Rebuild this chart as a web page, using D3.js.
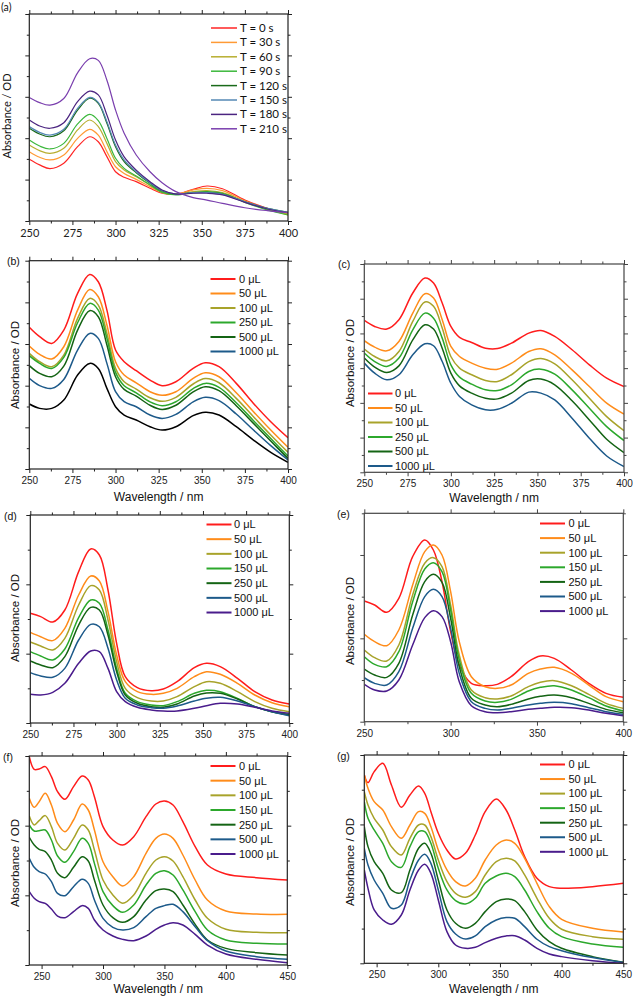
<!DOCTYPE html>
<html><head><meta charset="utf-8">
<script src="https://cdn.jsdelivr.net/npm/d3@7"></script>
<style>body{margin:0;background:#fff}svg{display:block}</style>
</head><body>
<svg id="c" width="633" height="1000"></svg>
<script>
// ---------------- DATA ----------------
// Panel (a)
const aWavelength = [250,256,262,270,278,285,290,295,300,305,312,320,327,335,345,353,362,375,388,400];
const aLabels = ["T = 0 s","T = 30 s","T = 60 s","T = 90 s","T = 120 s","T = 150 s","T = 180 s","T = 210 s"];
const aValues = [
 [0.298,0.271,0.253,0.279,0.359,0.407,0.383,0.311,0.238,0.211,0.190,0.158,0.134,0.129,0.153,0.169,0.156,0.101,0.061,0.032],
 [0.335,0.308,0.295,0.319,0.399,0.443,0.415,0.335,0.262,0.230,0.201,0.166,0.137,0.130,0.150,0.158,0.147,0.097,0.058,0.029],
 [0.367,0.340,0.327,0.351,0.440,0.488,0.456,0.375,0.287,0.246,0.214,0.174,0.138,0.129,0.142,0.147,0.137,0.093,0.056,0.034],
 [0.391,0.362,0.348,0.375,0.469,0.515,0.485,0.399,0.303,0.254,0.217,0.174,0.138,0.126,0.137,0.142,0.134,0.090,0.053,0.029],
 [0.448,0.420,0.407,0.436,0.536,0.593,0.568,0.472,0.359,0.287,0.233,0.182,0.145,0.130,0.137,0.138,0.130,0.093,0.061,0.042],
 [0.456,0.428,0.415,0.443,0.544,0.597,0.573,0.480,0.367,0.295,0.238,0.185,0.147,0.130,0.137,0.137,0.129,0.093,0.061,0.042],
 [0.488,0.459,0.448,0.475,0.577,0.627,0.609,0.512,0.391,0.310,0.246,0.190,0.150,0.130,0.134,0.134,0.126,0.090,0.058,0.040],
 [0.597,0.572,0.560,0.592,0.716,0.784,0.776,0.680,0.536,0.424,0.319,0.238,0.185,0.142,0.113,0.101,0.085,0.064,0.050,0.040]
];
const aColors = ["#ff2525","#ff9a35","#b8ae30","#3cb83c","#1a6a1a","#5588b5","#4b2480","#7a3fae"];

// Panels (b)-(e) shared wavelength grid
const bWavelength = [250,256,263,270,278,285,290,295,300,305,312,320,327,335,345,352,360,370,380,390,400];
const bLabels = ["0 \u03bcL","50 \u03bcL","100 \u03bcL","250 \u03bcL","500 \u03bcL","1000 \u03bcL"];
const bValues = [
 [0.680,0.635,0.603,0.667,0.843,0.934,0.899,0.763,0.571,0.515,0.472,0.427,0.400,0.419,0.483,0.510,0.491,0.411,0.315,0.227,0.150],
 [0.590,0.550,0.528,0.587,0.763,0.862,0.827,0.691,0.515,0.451,0.414,0.371,0.354,0.371,0.435,0.462,0.443,0.366,0.275,0.187,0.104],
 [0.555,0.515,0.491,0.547,0.723,0.819,0.787,0.651,0.483,0.419,0.384,0.342,0.325,0.344,0.408,0.434,0.414,0.339,0.251,0.163,0.080],
 [0.544,0.507,0.483,0.536,0.702,0.795,0.763,0.627,0.464,0.400,0.366,0.322,0.304,0.323,0.386,0.411,0.392,0.318,0.232,0.146,0.062],
 [0.496,0.459,0.443,0.494,0.667,0.760,0.731,0.595,0.443,0.382,0.350,0.306,0.286,0.306,0.370,0.395,0.376,0.304,0.219,0.134,0.051],
 [0.435,0.400,0.387,0.430,0.571,0.651,0.627,0.507,0.371,0.323,0.299,0.259,0.243,0.262,0.322,0.344,0.328,0.264,0.187,0.112,0.043],
 [0.312,0.291,0.291,0.331,0.451,0.507,0.483,0.387,0.299,0.259,0.235,0.203,0.187,0.203,0.256,0.272,0.259,0.203,0.139,0.080,0.032]
];
const cLabels = ["0 \u03bcL","50 \u03bcL","100 \u03bcL","250 \u03bcL","500 \u03bcL","1000 \u03bcL"];
const cValues = [
 [0.875,0.840,0.825,0.879,1.033,1.119,1.090,0.975,0.840,0.777,0.748,0.715,0.713,0.744,0.802,0.817,0.783,0.706,0.619,0.542,0.494],
 [0.758,0.721,0.700,0.754,0.917,1.029,1.004,0.879,0.725,0.667,0.629,0.600,0.594,0.629,0.696,0.712,0.677,0.590,0.494,0.398,0.335],
 [0.710,0.667,0.642,0.696,0.869,0.981,0.956,0.831,0.667,0.600,0.562,0.529,0.523,0.562,0.638,0.656,0.625,0.533,0.427,0.321,0.240],
 [0.687,0.638,0.610,0.658,0.821,0.917,0.888,0.773,0.619,0.548,0.508,0.475,0.471,0.504,0.581,0.594,0.565,0.475,0.369,0.263,0.183],
 [0.658,0.606,0.575,0.613,0.763,0.850,0.825,0.715,0.571,0.498,0.456,0.427,0.423,0.456,0.529,0.537,0.504,0.412,0.302,0.190,0.113],
 [0.629,0.571,0.533,0.562,0.677,0.740,0.729,0.638,0.513,0.437,0.388,0.360,0.363,0.398,0.462,0.456,0.417,0.312,0.196,0.094,0.033]
];
const dLabels = ["0 \u03bcL","50 \u03bcL","100 \u03bcL","150 \u03bcL","250 \u03bcL","500 \u03bcL","1000 \u03bcL"];
const dValues = [
 [1.582,1.534,1.457,1.630,2.183,2.510,2.423,1.918,1.149,0.668,0.510,0.466,0.490,0.596,0.798,0.861,0.813,0.644,0.452,0.332,0.274],
 [1.308,1.245,1.188,1.365,1.846,2.120,2.048,1.606,0.981,0.596,0.452,0.413,0.428,0.500,0.668,0.740,0.702,0.572,0.404,0.293,0.236],
 [1.168,1.111,1.053,1.221,1.702,1.981,1.918,1.486,0.885,0.500,0.365,0.317,0.317,0.380,0.524,0.596,0.572,0.452,0.308,0.212,0.163],
 [1.029,0.966,0.909,1.067,1.519,1.774,1.726,1.341,0.788,0.428,0.308,0.260,0.250,0.308,0.428,0.471,0.452,0.356,0.236,0.163,0.125],
 [0.894,0.837,0.798,0.957,1.413,1.668,1.630,1.269,0.740,0.404,0.284,0.236,0.226,0.274,0.389,0.433,0.428,0.346,0.236,0.163,0.115],
 [0.726,0.678,0.659,0.788,1.197,1.423,1.389,1.077,0.620,0.356,0.260,0.221,0.212,0.245,0.317,0.356,0.370,0.317,0.236,0.163,0.106],
 [0.413,0.404,0.442,0.572,0.861,1.038,1.029,0.788,0.452,0.308,0.226,0.188,0.173,0.173,0.212,0.250,0.284,0.274,0.226,0.173,0.139]
];
const eLabels = ["0 \u03bcL","50 \u03bcL","100 \u03bcL","150 \u03bcL","250 \u03bcL","500 \u03bcL","1000 \u03bcL"];
const eValues = [
 [1.448,1.400,1.312,1.480,1.980,2.180,2.060,1.680,1.080,0.680,0.460,0.432,0.448,0.540,0.720,0.788,0.760,0.620,0.460,0.340,0.292],
 [1.048,0.960,0.912,1.100,1.640,2.040,2.120,2.000,1.560,0.960,0.540,0.420,0.400,0.440,0.580,0.632,0.652,0.580,0.440,0.300,0.240],
 [0.860,0.768,0.728,0.920,1.520,1.900,1.968,1.860,1.400,0.800,0.380,0.288,0.272,0.308,0.420,0.472,0.492,0.432,0.328,0.220,0.160],
 [0.780,0.688,0.660,0.840,1.440,1.832,1.908,1.800,1.340,0.740,0.340,0.248,0.232,0.268,0.368,0.412,0.432,0.380,0.288,0.188,0.128],
 [0.632,0.560,0.532,0.700,1.280,1.680,1.768,1.672,1.240,0.660,0.280,0.200,0.180,0.208,0.272,0.304,0.320,0.288,0.220,0.148,0.108],
 [0.528,0.460,0.440,0.600,1.120,1.500,1.588,1.500,1.120,0.580,0.240,0.160,0.140,0.160,0.200,0.220,0.232,0.216,0.168,0.120,0.088],
 [0.448,0.380,0.368,0.500,0.920,1.248,1.332,1.260,0.960,0.480,0.192,0.120,0.108,0.120,0.148,0.160,0.172,0.168,0.140,0.100,0.072]
];
// Panel (f)
const fWavelength = [240,244,248,253,258,263,269,276,283,288,293,300,308,316,325,335,343,350,357,365,375,385,400,425,450];
const fLabels = ["0 \u03bcL","50 \u03bcL","100 \u03bcL","150 \u03bcL","250 \u03bcL","500 \u03bcL","1000 \u03bcL"];
const fValues = [
 [2.990,2.809,2.813,2.847,2.703,2.488,2.378,2.560,2.713,2.656,2.416,1.986,1.794,1.722,1.842,2.129,2.311,2.354,2.297,2.057,1.699,1.435,1.306,1.254,1.220],
 [2.392,2.263,2.344,2.464,2.297,2.033,1.914,2.081,2.311,2.225,1.938,1.483,1.268,1.134,1.268,1.603,1.818,1.880,1.818,1.579,1.220,0.933,0.775,0.732,0.727],
 [2.139,2.010,2.072,2.144,1.986,1.746,1.651,1.818,2.010,1.938,1.651,1.220,1.005,0.885,1.005,1.316,1.507,1.555,1.493,1.268,0.933,0.670,0.512,0.469,0.464],
 [2.010,1.923,1.928,1.938,1.794,1.565,1.474,1.627,1.818,1.746,1.459,1.053,0.852,0.756,0.861,1.148,1.316,1.354,1.292,1.077,0.766,0.502,0.359,0.311,0.301],
 [1.833,1.722,1.660,1.627,1.507,1.316,1.254,1.402,1.555,1.493,1.220,0.861,0.679,0.612,0.694,0.933,1.067,1.091,1.053,0.861,0.584,0.359,0.239,0.177,0.144],
 [1.531,1.402,1.340,1.306,1.196,1.029,0.995,1.124,1.230,1.172,0.933,0.670,0.541,0.502,0.536,0.694,0.813,0.852,0.871,0.766,0.550,0.349,0.201,0.120,0.081],
 [1.053,0.957,0.909,0.885,0.804,0.703,0.679,0.766,0.852,0.813,0.646,0.502,0.416,0.368,0.349,0.416,0.512,0.574,0.608,0.574,0.440,0.287,0.158,0.081,0.033]
];
// Panel (g)
const gWavelength = [240,243,248,255,262,270,277,284,289,294,300,307,314,322,330,338,347,355,362,370,380,390,400,425,450];
const gLabels = ["0 \u03bcL","50 \u03bcL","100 \u03bcL","150 \u03bcL","250 \u03bcL","500 \u03bcL","1000 \u03bcL"];
const gValues = [
 [2.712,2.602,2.760,2.880,2.568,2.247,2.424,2.554,2.448,2.184,1.872,1.632,1.503,1.584,1.848,2.184,2.367,2.208,1.920,1.536,1.224,1.104,1.080,1.104,1.152],
 [2.712,2.520,2.328,2.208,1.968,1.800,1.992,2.184,2.160,1.968,1.632,1.344,1.176,1.114,1.224,1.488,1.704,1.776,1.728,1.512,1.152,0.816,0.634,0.504,0.451],
 [2.472,2.280,2.088,1.920,1.680,1.560,1.800,1.992,1.992,1.824,1.488,1.176,1.008,0.951,1.032,1.272,1.464,1.512,1.474,1.272,0.936,0.648,0.490,0.384,0.346],
 [2.328,2.088,1.920,1.728,1.464,1.382,1.680,1.896,1.896,1.728,1.368,1.056,0.903,0.855,0.936,1.152,1.258,1.296,1.248,1.056,0.744,0.504,0.384,0.278,0.230],
 [1.968,1.680,1.464,1.296,1.056,1.018,1.344,1.656,1.728,1.584,1.200,0.768,0.576,0.504,0.576,0.744,0.888,0.927,0.903,0.744,0.480,0.312,0.216,0.096,0.014],
 [1.656,1.416,1.200,1.008,0.792,0.840,1.200,1.488,1.570,1.440,1.056,0.600,0.422,0.350,0.394,0.528,0.624,0.658,0.648,0.528,0.346,0.240,0.182,0.082,0.010],
 [1.344,1.080,0.768,0.624,0.562,0.696,1.056,1.344,1.426,1.296,0.912,0.456,0.264,0.216,0.230,0.298,0.360,0.394,0.398,0.336,0.216,0.134,0.096,0.038,0.000]
];
const dyeColors = ["#ff1c1c","#ff8c1a","#a8a32a","#2ca82c","#146414","#1d5a8a","#4a1c8c"];
const bColors = ["#ff1c1c","#ff8c1a","#a8a32a","#2ca82c","#146414","#1d5a8a","#000000"];
const cColors = ["#ff1c1c","#ff8c1a","#a8a32a","#2ca82c","#146414","#1d5a8a"];

// ---------------- DRAW ----------------
const svg = d3.select("#c");
const ARIAL = "Liberation Sans, Arial, sans-serif";

function panel(o){
  const g = svg.append("g");
  const x = d3.scaleLinear().domain(o.xdom).range([o.L, o.R]);
  const y = d3.scaleLinear().domain(o.ydom).range([o.B, o.T]);
  const font = o.font || ARIAL;
  const xMaj = d3.range(o.xFirst || o.xdom[0], o.xdom[1] + 0.01, o.xMajor);
  const xMin = d3.range(o.xFirst||o.xdom[0], o.xdom[1] + 0.01, o.xMajor/2).filter(v => !xMaj.some(m => Math.abs(m-v)<1e-6));
  const yMaj = d3.range(o.ydom[0], o.ydom[1] + 1e-6, o.yMajor).map(v=>+v.toFixed(4));
  const yMin = d3.range(o.ydom[0], o.ydom[1] + 1e-6, o.yMajor/2).map(v=>+v.toFixed(4)).filter(v => !yMaj.some(m => Math.abs(m-v)<1e-6));
  const stroke = o.frame || "#222";

  function ax(gen, vals, size, labels, transform){
    const a = g.append("g").attr("transform", transform)
      .call(gen.tickValues(vals).tickSize(size).tickPadding(4).tickFormat(labels ? d3.format("d") : ""));
    a.select(".domain").remove();
    a.selectAll("line").attr("stroke", stroke).attr("stroke-width", 1);
    a.selectAll("text").attr("font-family", font).attr("font-size", o.tickFont || 10).attr("fill", "#222");
    return a;
  }
  ax(d3.axisBottom(x), xMaj, 4, true, `translate(0,${o.B})`);
  ax(d3.axisBottom(x), xMin, 2.5, false, `translate(0,${o.B})`);
  ax(d3.axisTop(x), xMaj, 4, false, `translate(0,${o.T})`);
  ax(d3.axisTop(x), xMin, 2.5, false, `translate(0,${o.T})`);
  ax(d3.axisLeft(y), yMaj, 4, false, `translate(${o.L},0)`);
  ax(d3.axisLeft(y), yMin, 2.5, false, `translate(${o.L},0)`);
  ax(d3.axisRight(y), yMaj, 4, false, `translate(${o.R},0)`);
  ax(d3.axisRight(y), yMin, 2.5, false, `translate(${o.R},0)`);

  const clipId = "clip" + o.id;
  svg.append("clipPath").attr("id", clipId).append("rect")
    .attr("x", o.L).attr("y", o.T - 2).attr("width", o.R - o.L).attr("height", o.B - o.T + 2);

  const line = d3.line().x((d,i)=>x(o.wl[i])).y(d=>y(d)).curve(d3.curveCatmullRom.alpha(0.5));
  const cg = g.append("g").attr("clip-path", `url(#${clipId})`);
  o.values.forEach((vals, k) => {
    cg.append("path").attr("d", line(vals)).attr("fill", "none")
      .attr("stroke", o.colors[k]).attr("stroke-width", o.lw || 1.5);
  });

  g.append("rect").attr("x", o.L).attr("y", o.T).attr("width", o.R - o.L).attr("height", o.B - o.T)
    .attr("fill", "none").attr("stroke", stroke).attr("stroke-width", o.frameW || 1.2);

  // legend
  const lg = o.legend;
  o.labels.forEach((lab, k) => {
    const yy = lg.y0 + k * lg.dy;
    g.append("line").attr("x1", lg.x1).attr("x2", lg.x2).attr("y1", yy).attr("y2", yy)
      .attr("stroke", o.colors[k]).attr("stroke-width", lg.lw || 2);
    g.append("text").attr("x", lg.tx).attr("y", yy).attr("dy", "0.35em")
      .attr("font-family", font).attr("font-size", lg.fs || 11).attr("fill", "#111").text(lab);
  });

  // panel label
  g.append("text").attr("x", o.labX).attr("y", o.labY).attr("dy", "0.35em")
    .attr("font-family", font).attr("font-size", 10.5).attr("fill", "#111").text(o.id2);

  // y title
  g.append("text").attr("transform", `translate(${o.ytX},${o.ytY}) rotate(-90)`)
    .attr("text-anchor", "middle").attr("dy", "0.35em")
    .attr("font-family", font).attr("font-size", o.titleFont || 11.5).attr("fill", "#111").text("Absorbance / OD");
  if (o.xtY) {
    g.append("text").attr("x", (o.L + o.R)/2).attr("y", o.xtY).attr("text-anchor", "middle").attr("dy", "0.35em")
      .attr("font-family", font).attr("font-size", o.titleFont || 12).attr("fill", "#111").text("Wavelength / nm");
  }
}

panel({id:"a", id2:"(a)", L:29.3, R:288, T:14, B:221, xdom:[250,400], xMajor:25, ydom:[0,1], yMajor:0.2,
  wl:aWavelength, values:aValues, colors:aColors, labels:aLabels, lw:1.2, font:"Lato, Open Sans, sans-serif", tickFont:11,
  legend:{x1:211, x2:237, tx:240, y0:28, dy:14.4, lw:1.5, fs:11.5},
  labX:1, labY:7, ytX:7.5, ytY:116, titleFont:11});

panel({id:"b", id2:"(b)", L:29.3, R:288, T:260.7, B:469, xdom:[250,400], xMajor:25, ydom:[0,1], yMajor:0.2,
  wl:bWavelength, values:bValues, colors:bColors, labels:bLabels,
  legend:{x1:210.5, x2:235.5, tx:239, y0:279, dy:14.5},
  labX:7, labY:261, ytX:15, ytY:365, xtY:497});

panel({id:"c", id2:"(c)", L:364.3, R:624, T:264, B:472.3, xdom:[250,400], xMajor:25, ydom:[0,1.2], yMajor:0.2,
  wl:bWavelength, values:cValues, colors:cColors, labels:cLabels, frame:"#444",
  legend:{x1:368, x2:392.5, tx:395, y0:393.5, dy:14.5},
  labX:338, labY:264, ytX:350, ytY:363, xtY:498});

panel({id:"d", id2:"(d)", L:30.3, R:289.3, T:515, B:723, xdom:[250,400], xMajor:25, ydom:[0,3], yMajor:1,
  wl:bWavelength, values:dValues, colors:dyeColors, labels:dLabels,
  legend:{x1:206.5, x2:231.5, tx:234, y0:524.5, dy:14.67},
  labX:4, labY:516, ytX:15, ytY:618});

panel({id:"e", id2:"(e)", L:364.3, R:623.3, T:513.3, B:721.7, xdom:[250,400], xMajor:50, ydom:[0,2.5], yMajor:1,
  wl:bWavelength, values:eValues, colors:dyeColors, labels:eLabels, frame:"#444",
  legend:{x1:540, x2:565, tx:568.5, y0:523.5, dy:14.6},
  labX:337, labY:514, ytX:350, ytY:621});

panel({id:"f", id2:"(f)", L:29.3, R:287.3, T:756, B:965, xdom:[240,450], xFirst:250, xMajor:50, ydom:[0,3], yMajor:1,
  wl:fWavelength, values:fValues, colors:dyeColors, labels:fLabels,
  legend:{x1:210.5, x2:235.5, tx:239, y0:766, dy:14.67},
  labX:3, labY:757, ytX:15, ytY:863, xtY:989});

panel({id:"g", id2:"(g)", L:364.3, R:623.3, T:755, B:963.3, xdom:[240,450], xFirst:250, xMajor:50, ydom:[0,3], yMajor:1,
  wl:gWavelength, values:gValues, colors:dyeColors, labels:gLabels,
  legend:{x1:540, x2:565, tx:568.5, y0:764.5, dy:14.55},
  labX:337, labY:756, ytX:350, ytY:862, xtY:989});
</script>
</body></html>
